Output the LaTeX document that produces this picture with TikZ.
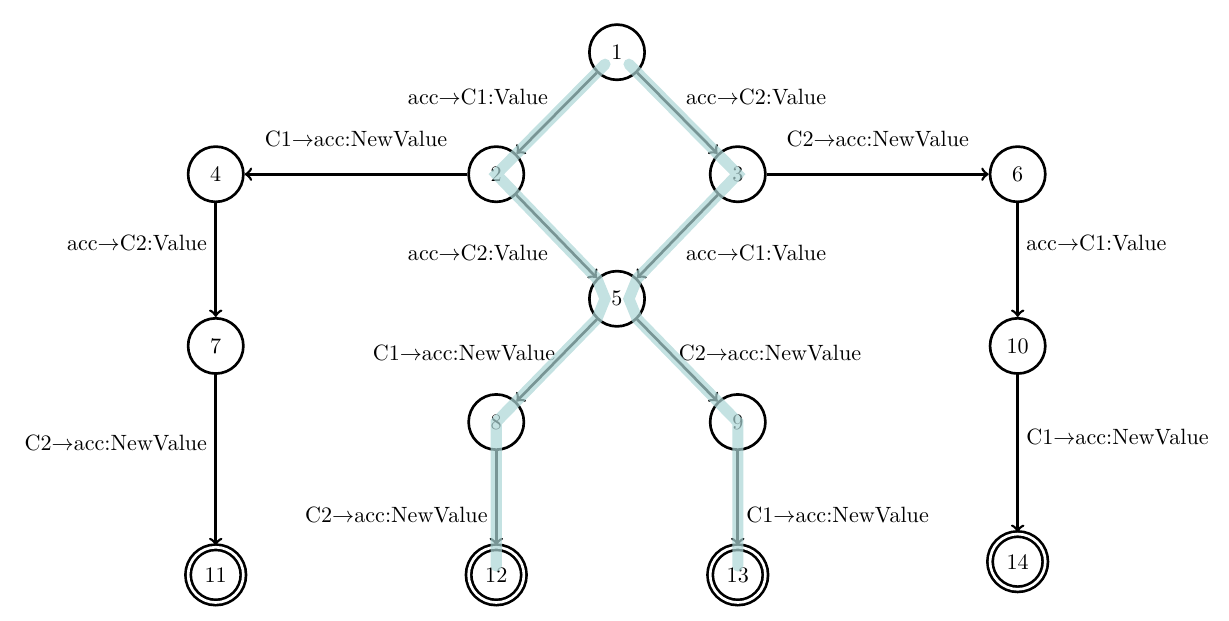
\documentclass[tikz,border=0pt]{standalone}
\usetikzlibrary{automata,calc}
\begin{document}
\begin{tikzpicture}[every state/.style={very thick},
    accepting/.append style={double distance=1.2pt},
    every edge/.style={draw,very thick},
    highlight/.style={line width=5pt,teal!33,opacity=0.7,line cap=round}]
    \useasboundingbox (0,0) rectangle (19.54,-9.87);
    % states
    \node[state] (1) at (9.81,-0.83) {1};
    \node[state] (2) at (7.89,-2.77) {2};
    \node[state] (3) at (11.73,-2.77) {3};
    \node[state] (4) at (3.43,-2.77) {4};
    \node[state] (6) at (16.18,-2.77) {6};
    \node[state] (5) at (9.81,-4.75) {5};
    \node[state] (7) at (3.43,-5.50) {7};
    \node[state] (10) at (16.18,-5.50) {10};
    \node[state] (8) at (7.89,-6.71) {8};
    \node[state] (9) at (11.73,-6.71) {9};
    \node[state,accepting] (11) at (3.43,-9.14) {11};
    \node[state,accepting] (12) at (7.89,-9.14) {12};
    \node[state,accepting] (13) at (11.73,-9.14) {13};
    \node[state,accepting] (14) at (16.18,-8.93) {14};
    % transitions
    \path[->] (1) edge node[above left] {acc$\rightarrow$C1:Value} (2)
              (1) edge node[above right] {acc$\rightarrow$C2:Value} (3)
              (2) edge node[above=3mm] {C1$\rightarrow$acc:NewValue} (4)
              (3) edge node[above=3mm] {C2$\rightarrow$acc:NewValue} (6)
              (2) edge node[below left] {acc$\rightarrow$C2:Value} (5)
              (3) edge node[below right] {acc$\rightarrow$C1:Value} (5)
              (4) edge node[above left] {acc$\rightarrow$C2:Value} (7)
              (6) edge node[above right] {acc$\rightarrow$C1:Value} (10)
              (5) edge node[left,pos=0.41] {C1$\rightarrow$acc:NewValue} (8)
              (5) edge node[right,pos=0.41] {C2$\rightarrow$acc:NewValue} (9)
              (7) edge node[above left] {C2$\rightarrow$acc:NewValue} (11)
              (10) edge node[above right] {C1$\rightarrow$acc:NewValue} (14)
              (8) edge node[below left] {C2$\rightarrow$acc:NewValue} (12)
              (9) edge node[below right] {C1$\rightarrow$acc:NewValue} (13);
    % highlighted runs
    \draw[highlight] ($(1.center)+(-0.19,-0.19)$) -- (2.center) -- ($(5.center)+(-0.32,0.32)$)
        -- ($(5.center)+(-0.19,0)$) -- ($(5.center)+(-0.32,-0.32)$) -- (8.center) -- ($(12.center)+(0,0.14)$);
    \draw[highlight] ($(1.center)+(0.19,-0.19)$) -- (3.center) -- ($(5.center)+(0.32,0.32)$)
        -- ($(5.center)+(0.19,0)$) -- ($(5.center)+(0.32,-0.32)$) -- (9.center) -- ($(13.center)+(0,0.14)$);
\end{tikzpicture}
\end{document}
